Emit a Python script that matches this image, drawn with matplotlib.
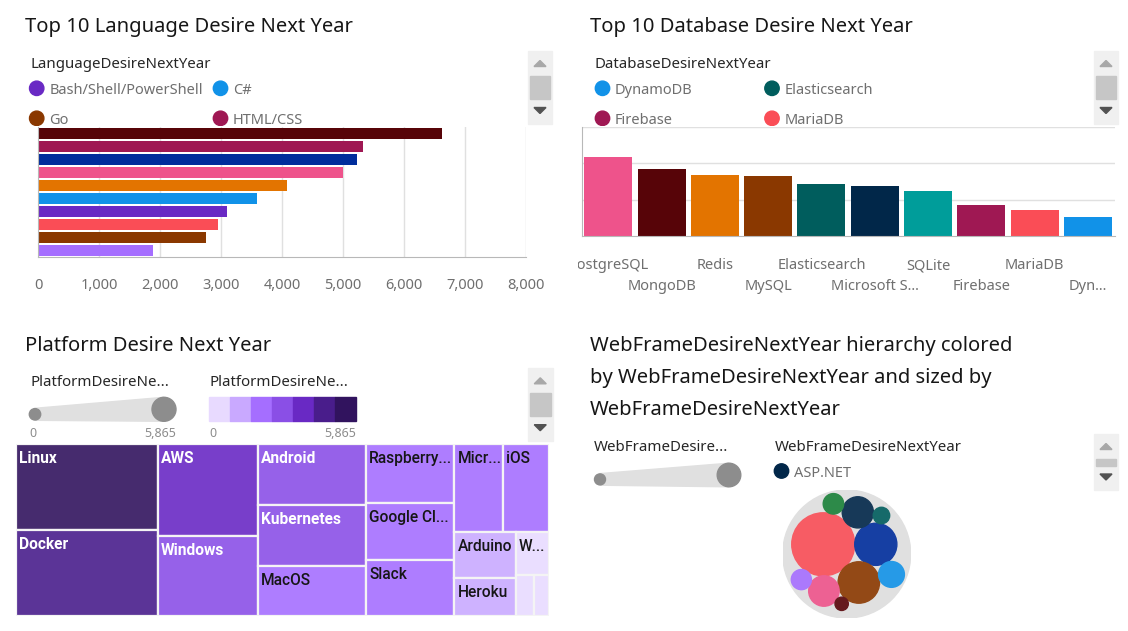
import numpy as np
import matplotlib
matplotlib.use("Agg")
import matplotlib.pyplot as plt
from matplotlib.patches import Circle, Rectangle, Polygon
from matplotlib.colors import to_rgb
from matplotlib.transforms import Bbox, TransformedBbox, ScaledTranslation

plt.rcParams['font.family'] = ['Noto Sans', 'DejaVu Sans']

W, H = 1128, 631

# ---------------- data ----------------
lang_names = ['JavaScript', 'HTML/CSS', 'Python', 'SQL', 'TypeScript', 'C#',
              'Bash/Shell/PowerShell', 'Java', 'Go', 'Kotlin']
lang_values = [6626, 5322, 5234, 5000, 4082, 3585, 3094, 2947, 2754, 1883]
lang_colors = ['#570408', '#9f1853', '#002d9c', '#ee538b', '#e37400', '#1192e8',
               '#6929c4', '#fa4d56', '#8a3800', '#a56eff']
lang_ticks = [0, 1000, 2000, 3000, 4000, 5000, 6000, 7000, 8000]

db_names = ['PostgreSQL', 'MongoDB', 'Redis', 'MySQL', 'Elasticsearch',
            'Microsoft SQL Server', 'SQLite', 'Firebase', 'MariaDB', 'DynamoDB']
db_labels = ['PostgreSQL', 'MongoDB', 'Redis', 'MySQL', 'Elasticsearch',
             'Microsoft S...', 'SQLite', 'Firebase', 'MariaDB', 'Dyn...']
db_values = [2170, 1840, 1680, 1650, 1435, 1370, 1235, 837, 708, 524]
db_colors = ['#ee538b', '#570408', '#e37400', '#8a3800', '#005d5d',
             '#012749', '#009d9a', '#9f1853', '#fa4d56', '#1192e8']

plat_names = ['Linux', 'Docker', 'AWS', 'Windows', 'Android', 'Kubernetes', 'MacOS',
              'Raspberry Pi', 'Google Cloud Platform', 'Slack', 'Microsoft Azure', 'iOS',
              'Arduino', 'Heroku', 'WordPress', 'IBM Cloud or Watson', 'Other(s)']
plat_labels = ['Linux', 'Docker', 'AWS', 'Windows', 'Android', 'Kubernetes', 'MacOS',
               'Raspberry...', 'Google Cl...', 'Slack', 'Micr...', 'iOS',
               'Arduino', 'Heroku', 'W...', '', '']
plat_values = [5865, 5842, 4401, 3871, 3184, 3184, 2592, 2504, 2420, 2363, 2051, 1960,
               1380, 1114, 692, 365, 300]
plat_edges = [1000, 1800, 3000, 4000, 5000, 5850]
plat_palette = ['#e8daff', '#c9a9ff', '#a56eff', '#8a4fe6', '#6929c4', '#491d8b', '#31135e']

web_names = ['React.js', 'Vue.js', 'Angular/Angular.js', 'ASP.NET', 'Express', 'Django',
             'Flask', 'Spring', 'Laravel', 'Ruby on Rails']
web_values = [4020, 1800, 1740, 985, 940, 676, 425, 410, 276, 180]
web_colors = ['#fa4d56', '#002d9c', '#8a3800', '#012749', '#ee538b', '#1192e8',
              '#198038', '#a56eff', '#005d5d', '#570408']

TITLE = '#161616'
GREY = '#6f6f6f'
DARK = '#262626'
LEG = 10.8


def box(x0, y0, x1, y1):
    # pixel box (top-down) -> figure fraction
    return [x0 / W, 1 - y1 / H, (x1 - x0) / W, (y1 - y0) / H]


def pix_axes(x0, y0, x1, y1):
    a = fig.add_axes(box(x0, y0, x1, y1))
    a.set_xlim(x0, x1)
    a.set_ylim(y1, y0)
    a.axis('off')
    return a


def blend(c, alpha, bg='#ffffff'):
    c, bg = np.array(to_rgb(c)), np.array(to_rgb(bg))
    return tuple(c * alpha + bg * (1 - alpha))


fig = plt.figure(figsize=(W / 100, H / 100), dpi=100)
fig.patch.set_facecolor('white')


def cat_legend(x0, y0, x1, y1, title, names, colors, cols_x):
    la = pix_axes(x0, y0, x1, y1)
    la.text(x0 + 5, 67.7, title, fontsize=LEG, color=DARK, va='baseline', clip_on=True)
    items = sorted(zip(names, colors))[:4]
    for k, (nm, col) in enumerate(items):
        cx = cols_x[k % 2]
        cy = 88.3 + 30 * (k // 2)
        la.add_patch(Circle((cx, cy), 7.2, color=col))
        la.text(cx + 12.5, cy + 6, nm, fontsize=10.5, color=GREY, va='baseline', clip_on=True)


# ---------------- panel 1: horizontal bars ----------------
ax1 = fig.add_axes(box(38.3, 126.8, 526, 256.8))
yy = np.arange(len(lang_values))
ax1.barh(yy, lang_values, height=0.88, color=lang_colors, zorder=2)
ax1.set_ylim(len(lang_values) - 0.5, -0.5)
ax1.set_xlim(0, 8000)
ax1.set_xticks(lang_ticks, [f'{t:,}' for t in lang_ticks])
ax1.set_yticks([])
ax1.grid(axis='x', color='#e0e0e0', lw=1, zorder=0)
ax1.tick_params(axis='x', length=0, pad=15.5, labelsize=10.5, labelcolor=GREY)
for s in ['top', 'right']:
    ax1.spines[s].set_visible(False)
for s in ['left', 'bottom']:
    ax1.spines[s].set_color('#b8b8b8')
cat_legend(25, 45, 525, 125.5, 'LanguageDesireNextYear', lang_names, lang_colors, [36.7, 220.5])

# ---------------- panel 2: vertical bars ----------------
ax2 = fig.add_axes(box(581.7, 126.5, 1114.5, 236))
xx = np.arange(len(db_values))
ax2.bar(xx, db_values, width=0.9, color=db_colors, zorder=2)
ax2.set_xlim(-0.5, len(db_values) - 0.5)
ax2.set_ylim(0, 3000)
ax2.set_yticks([1000, 2000, 3000], [])
ax2.grid(axis='y', color='#e0e0e0', lw=1, zorder=0)
ax2.set_xticks(xx, db_labels)
ax2.tick_params(axis='both', length=0)
ax2.tick_params(axis='x', pad=16, labelsize=10.5, labelcolor=GREY)
for s in ['top', 'right']:
    ax2.spines[s].set_visible(False)
for s in ['left', 'bottom']:
    ax2.spines[s].set_color('#b8b8b8')
clip2 = TransformedBbox(Bbox.from_extents(578 / W, 0, 1, 1), fig.transFigure)
shift = ScaledTranslation(0, -21 / 100, fig.dpi_scale_trans)
for i, lbl in enumerate(ax2.get_xticklabels()):
    if i % 2:
        lbl.set_transform(lbl.get_transform() + shift)
    lbl.set_clip_box(clip2)
    lbl.set_clip_on(True)
cat_legend(590, 45, 1090, 125.5, 'DatabaseDesireNextYear', db_names, db_colors, [602.5, 772])


# ---------------- panel 3: treemap (d3 squarify) ----------------
def squarify(values, x0, y0, x1, y1, ratio=(1 + 5 ** 0.5) / 2):
    rects = []
    total = float(sum(values))
    i0, n = 0, len(values)
    while i0 < n:
        dx, dy = x1 - x0, y1 - y0
        s = values[i0]
        i1 = i0 + 1
        vmin = vmax = s
        alpha = max(dy / dx, dx / dy) / (total * ratio)
        beta = s * s * alpha
        best = max(vmax / beta, beta / vmin)
        while i1 < n:
            v = values[i1]
            s2 = s + v
            mn, mx = min(vmin, v), max(vmax, v)
            beta = s2 * s2 * alpha
            r = max(mx / beta, beta / mn)
            if r > best:
                break
            s, vmin, vmax, best = s2, mn, mx, r
            i1 += 1
        row = values[i0:i1]
        if dx < dy:
            h = dy * s / total
            xc = x0
            for v in row:
                w = dx * v / s
                rects.append((xc, y0, w, h))
                xc += w
            y0 += h
        else:
            w = dx * s / total
            yc = y0
            for v in row:
                h = dy * v / s
                rects.append((x0, yc, w, h))
                yc += h
            x0 += w
        total -= s
        i0 = i1
    return rects


TX0, TY0, TX1, TY1 = 16, 444, 549, 616
ax3 = fig.add_axes(box(TX0, TY0, TX1, TY1))
ax3.set_xlim(0, TX1 - TX0)
ax3.set_ylim(TY1 - TY0, 0)
ax3.axis('off')
bins = np.digitize(plat_values, plat_edges)
for (x, y, w, h), lab, b in zip(squarify(plat_values, 0, 0, TX1 - TX0, TY1 - TY0), plat_labels, bins):
    ax3.add_patch(Rectangle((x, y), w, h, facecolor=blend(plat_palette[b], 0.9),
                            edgecolor='#f4f4f4', lw=1.6))
    if lab:
        light = b >= 3
        ax3.text(x + 3.5, y + 19, lab, ha='left', va='baseline', fontsize=11.2,
                 family=['Roboto', 'DejaVu Sans'],
                 fontweight='bold' if light else 'medium',
                 color='white' if light else '#161616')


# ---------------- panel 4: packed bubbles ----------------
# greedy front packing: every new circle goes to the free spot tangent to two
# placed circles that lies closest to the value-weighted centroid
def pack_circles(radii, weights):
    P = [[0.0, 0.0, radii[0]], [radii[0] + radii[1], 0.0, radii[1]]]
    for idx in range(2, len(radii)):
        r = radii[idx]
        wts = np.array(weights[:idx], float)
        arr = np.array(P)
        gx = np.sum(arr[:, 0] * wts) / wts.sum()
        gy = np.sum(arr[:, 1] * wts) / wts.sum()
        best, best_key = None, None
        for i in range(len(P)):
            for j in range(i + 1, len(P)):
                ax_, ay_, ra = P[i]
                bx_, by_, rb = P[j]
                d = np.hypot(bx_ - ax_, by_ - ay_)
                A, B = ra + r, rb + r
                if d == 0 or d > A + B:
                    continue
                xp = (A * A - B * B + d * d) / (2 * d)
                h2 = A * A - xp * xp
                if h2 < 0:
                    continue
                h = np.sqrt(h2)
                ux, uy = (bx_ - ax_) / d, (by_ - ay_) / d
                for sgn in (1, -1):
                    cx = ax_ + xp * ux - sgn * h * uy
                    cy = ay_ + xp * uy + sgn * h * ux
                    dd = np.hypot(arr[:, 0] - cx, arr[:, 1] - cy) - arr[:, 2] - r
                    if np.any(dd < -1e-6):
                        continue
                    key = (round(np.hypot(cx - gx, cy - gy), 6), -cy)
                    if best_key is None or key < best_key:
                        best_key, best = key, (cx, cy)
        P.append([best[0], best[1], r])
    return np.array(P)


def enclose(C):
    xs, ys, rs = C[:, 0], C[:, 1], C[:, 2]
    f = lambda px, py: np.max(np.hypot(xs - px, ys - py) + rs)
    cx, cy = xs.mean(), ys.mean()
    best = f(cx, cy)
    step = rs.max()
    angs = np.linspace(0, 2 * np.pi, 24, endpoint=False)
    while step > 1e-7:
        moved = False
        for t in angs:
            nx, ny = cx + step * np.cos(t), cy + step * np.sin(t)
            v = f(nx, ny)
            if v < best:
                cx, cy, best, moved = nx, ny, v, True
        if not moved:
            step /= 2
    return cx, cy, best


C = pack_circles(list(np.sqrt(web_values)), web_values)
ecx, ecy, er = enclose(C)
C[:, 0] -= ecx
C[:, 1] -= ecy
R = er * 1.03
ax4 = fig.add_axes(box(782.7, 490, 910.7, 618))
ax4.set_xlim(-R, R)
ax4.set_ylim(R, -R)
ax4.axis('off')
ax4.add_patch(Circle((0, 0), R, color='#e0e0e0'))
for (x, y, r), col in zip(C, web_colors):
    ax4.add_patch(Circle((x, y), r, color=blend(col, 0.9, '#e0e0e0')))

# ---------------- overlay: titles, legends, scrollbars ----------------
ov = pix_axes(0, 0, W, H)
ov.set_zorder(10)

TS = 14.5
ov.text(25, 32.3, 'Top 10 Language Desire Next Year', fontsize=TS, color=TITLE, va='baseline')
ov.text(590, 32.3, 'Top 10 Database Desire Next Year', fontsize=TS, color=TITLE, va='baseline')
ov.text(25, 351, 'Platform Desire Next Year', fontsize=TS, color=TITLE, va='baseline')
for k, line in enumerate(['WebFrameDesireNextYear hierarchy colored',
                          'by WebFrameDesireNextYear and sized by',
                          'WebFrameDesireNextYear']):
    ov.text(590, 351 + 32 * k, line, fontsize=TS, color=TITLE, va='baseline')


def scrollbar(x0, y0, x1, y1, t0, t1):
    cx = (x0 + x1) / 2
    ov.add_patch(Rectangle((x0, y0), x1 - x0, y1 - y0, color='#f0f0f0'))
    ov.add_patch(Rectangle((x0 + 2, t0), x1 - x0 - 4, t1 - t0, color='#c6c6c6'))
    ov.add_patch(Polygon([(cx - 6, y0 + 15.5), (cx + 6, y0 + 15.5), (cx, y0 + 9.5)], color='#a8a8a8'))
    ov.add_patch(Polygon([(cx - 6, y1 - 16), (cx + 6, y1 - 16), (cx, y1 - 10)], color='#525252'))


scrollbar(528, 51, 552, 123.5, 75.5, 98.5)
scrollbar(1094, 51, 1118, 123.5, 75.5, 98.5)
scrollbar(528, 368.3, 552.5, 440.7, 392.7, 415.7)
scrollbar(1094, 434, 1118, 490, 459, 466)


def size_legend(xs, ys, rs, xb, yb, rb):
    ov.add_patch(Polygon([(xs, ys - rs - 0.3), (xb, yb - rb), (xb, yb + rb), (xs, ys + rs + 0.3)],
                         color='#e0e0e0'))
    ov.add_patch(Circle((xs, ys), rs, color='#8d8d8d'))
    ov.add_patch(Circle((xb, yb), rb, color='#8d8d8d'))


# platform legends
ov.text(30.7, 386.5, 'PlatformDesireNe...', fontsize=LEG, color=DARK, va='baseline')
ov.text(209.5, 386.5, 'PlatformDesireNe...', fontsize=LEG, color=DARK, va='baseline')
size_legend(35, 414.3, 5.7, 164, 409.3, 12)
pmax = max(plat_values)
ov.text(29.3, 437.3, '0', fontsize=9, color='#8d8d8d', va='baseline')
ov.text(175.7, 437.3, f'{pmax:,}', fontsize=9, color='#8d8d8d', va='baseline', ha='right')
sw = (355.7 - 209) / len(plat_palette)
for k, col in enumerate(plat_palette):
    ov.add_patch(Rectangle((209 + k * sw, 397.3), sw, 23.4, color=col))
ov.text(209, 437.3, '0', fontsize=9, color='#8d8d8d', va='baseline')
ov.text(355.7, 437.3, f'{pmax:,}', fontsize=9, color='#8d8d8d', va='baseline', ha='right')

# web frame legends
ov.text(594, 451, 'WebFrameDesire...', fontsize=LEG, color=DARK, va='baseline')
size_legend(600, 479.4, 5.5, 729, 475, 11.8)
ov.text(775, 451, 'WebFrameDesireNextYear', fontsize=LEG, color=DARK, va='baseline')
first = sorted(zip(web_names, web_colors))[0]
ov.add_patch(Circle((781.5, 471), 7.2, color=first[1]))
ov.text(794, 477, first[0], fontsize=10.5, color=GREY, va='baseline')

fig.savefig('out.png', dpi=100, facecolor='white')
